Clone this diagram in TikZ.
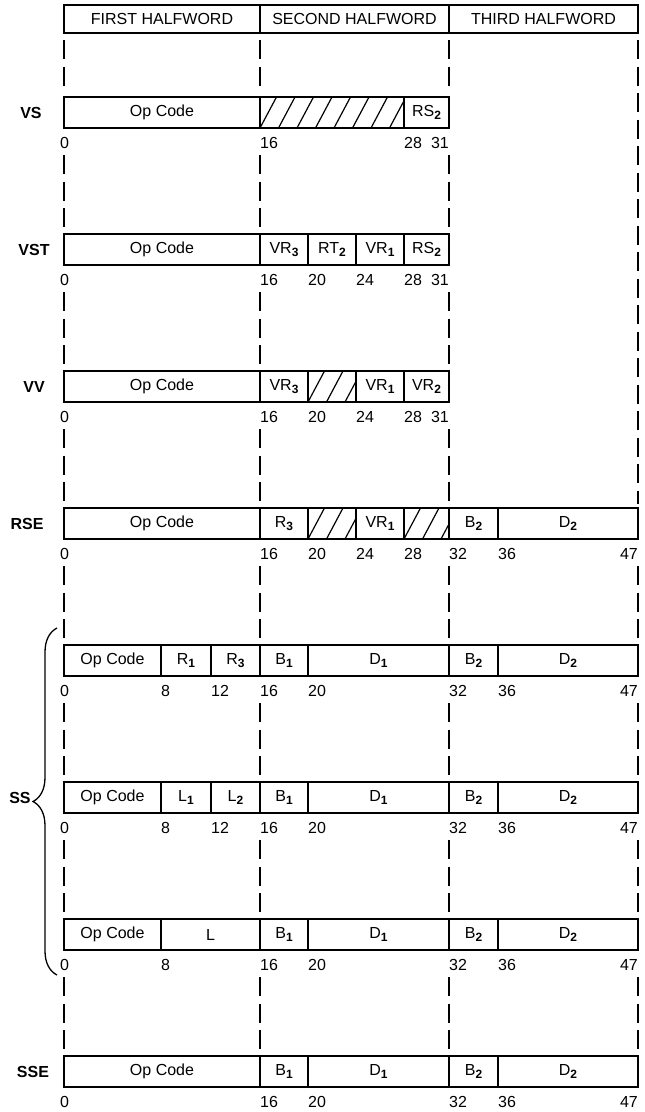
\documentclass[tikz,border=0pt]{standalone}
\usepackage{fontspec}
\setmainfont{Liberation Sans}
\usetikzlibrary{decorations.pathreplacing}
\newcommand{\subs}[1]{\raisebox{-2.5pt}{\fontsize{12}{12}\selectfont\bfseries #1}}

\begin{document}
\begin{tikzpicture}[x=1pt,y=-1pt,
  field/.style={draw,line width=1.3pt},
  hatch/.style={field,path picture={
    \foreach \h in {-1,...,8}
      \draw[line width=1.2pt] ([xshift=\h*18.5pt]path picture bounding box.south west) -- ++(16.5,-31);}},
  txt/.style={font=\fontsize{16}{18}\selectfont,inner sep=0pt},
  num/.style={txt,anchor=west},
  fmt/.style={font=\fontsize{16}{18}\selectfont\bfseries,inner sep=0pt},
  guide/.style={line width=1.7pt,dash pattern=on 19pt off 7.5pt}]
  \useasboundingbox (0,0) rectangle (645,1112);
  \begin{scope}
    \draw[field] (64,5) rectangle (638,33);
    \draw[field] (260,5) -- (260,33) (449,5) -- (449,33);
    \node[txt] (first) at (162,19) {FIRST HALFWORD};
    \node[txt] (second) at (354.5,19) {SECOND HALFWORD};
    \node[txt] (third) at (543.5,19) {THIRD HALFWORD};
  \end{scope}

  \foreach \x in {64,260,449} \draw[guide] (\x,40) -- (\x,93);
  \draw[guide] (638,40) -- (638,504);
  \foreach \t in {97,234,371} \foreach \x in {64,260,449} \draw[guide] (\x,\t+58) -- (\x,\t+134);
  \foreach \t in {508,645,782,919} \foreach \x in {64,260,449,638} \draw[guide] (\x,\t+58) -- (\x,\t+134);

  \node[fmt] (vs) at (31,112.5) {VS};
  \draw[hatch] (260,97) rectangle (404,128);
  \foreach \a/\b/\t [count=\k] in {64/260/Op Code,404/449/RS\subs{2}} {
    \draw[field] (\a,97) rectangle (\b,128);
    \node[txt] (vs\k) at ({(\a+\b)/2},112.5) {\t};
  }
  \foreach \n/\x in {0/60,16/260,28/404} \node[num] (vsn\n) at (\x,143) {\n};
  \node[num,anchor=east] (vsn31) at (449,143) {31};

  \node[fmt] (vst) at (34,249.5) {VST};
  \foreach \a/\b/\t [count=\k] in {64/260/Op Code,260/308/VR\subs{3},308/356/RT\subs{2},356/404/VR\subs{1},404/449/RS\subs{2}} {
    \draw[field] (\a,234) rectangle (\b,265);
    \node[txt] (vst\k) at ({(\a+\b)/2},249.5) {\t};
  }
  \foreach \n/\x in {0/60,16/260,20/308,24/356,28/404} \node[num] (vstn\n) at (\x,280) {\n};
  \node[num,anchor=east] (vstn31) at (449,280) {31};

  \node[fmt] (vv) at (34,386.5) {VV};
  \draw[hatch] (308,371) rectangle (356,402);
  \foreach \a/\b/\t [count=\k] in {64/260/Op Code,260/308/VR\subs{3},356/404/VR\subs{1},404/449/VR\subs{2}} {
    \draw[field] (\a,371) rectangle (\b,402);
    \node[txt] (vv\k) at ({(\a+\b)/2},386.5) {\t};
  }
  \foreach \n/\x in {0/60,16/260,20/308,24/356,28/404} \node[num] (vvn\n) at (\x,417) {\n};
  \node[num,anchor=east] (vvn31) at (449,417) {31};

  \node[fmt] (rse) at (27,523.5) {RSE};
  \draw[hatch] (308,508) rectangle (356,539);
  \draw[hatch] (404,508) rectangle (449,539);
  \foreach \a/\b/\t [count=\k] in {64/260/Op Code,260/308/R\subs{3},356/404/VR\subs{1},449/498/B\subs{2},498/638/D\subs{2}} {
    \draw[field] (\a,508) rectangle (\b,539);
    \node[txt] (rse\k) at ({(\a+\b)/2},523.5) {\t};
  }
  \foreach \n/\x in {0/60,16/260,20/308,24/356,28/404,32/449,36/498} \node[num] (rsen\n) at (\x,554) {\n};
  \node[num,anchor=east] (rsen47) at (638,554) {47};

  \foreach \a/\b/\t [count=\k] in {64/161/Op Code,161/211/R\subs{1},211/260/R\subs{3},260/308/B\subs{1},308/449/D\subs{1},449/498/B\subs{2},498/638/D\subs{2}} {
    \draw[field] (\a,645) rectangle (\b,676);
    \node[txt] (ssa\k) at ({(\a+\b)/2},660.5) {\t};
  }
  \foreach \n/\x in {0/60,8/161,12/211,16/260,20/308,32/449,36/498} \node[num] (ssan\n) at (\x,691) {\n};
  \node[num,anchor=east] (ssan47) at (638,691) {47};

  \foreach \a/\b/\t [count=\k] in {64/161/Op Code,161/211/L\subs{1},211/260/L\subs{2},260/308/B\subs{1},308/449/D\subs{1},449/498/B\subs{2},498/638/D\subs{2}} {
    \draw[field] (\a,782) rectangle (\b,813);
    \node[txt] (ssb\k) at ({(\a+\b)/2},797.5) {\t};
  }
  \foreach \n/\x in {0/60,8/161,12/211,16/260,20/308,32/449,36/498} \node[num] (ssbn\n) at (\x,828) {\n};
  \node[num,anchor=east] (ssbn47) at (638,828) {47};

  \foreach \a/\b/\t [count=\k] in {64/161/Op Code,161/260/L,260/308/B\subs{1},308/449/D\subs{1},449/498/B\subs{2},498/638/D\subs{2}} {
    \draw[field] (\a,919) rectangle (\b,950);
    \node[txt] (ssc\k) at ({(\a+\b)/2},934.5) {\t};
  }
  \foreach \n/\x in {0/60,8/161,16/260,20/308,32/449,36/498} \node[num] (sscn\n) at (\x,965) {\n};
  \node[num,anchor=east] (sscn47) at (638,965) {47};

  \draw[line width=1.3pt,decorate,decoration={brace,amplitude=24pt}] (57,975) -- (57,628);
  \node[fmt] (ss) at (20,798) {SS};

  \node[fmt] (sse) at (33,1071.5) {SSE};
  \foreach \a/\b/\t [count=\k] in {64/260/Op Code,260/308/B\subs{1},308/449/D\subs{1},449/498/B\subs{2},498/638/D\subs{2}} {
    \draw[field] (\a,1056) rectangle (\b,1087);
    \node[txt] (sse\k) at ({(\a+\b)/2},1071.5) {\t};
  }
  \foreach \n/\x in {0/60,16/260,20/308,32/449,36/498} \node[num] (ssen\n) at (\x,1102) {\n};
  \node[num,anchor=east] (ssen47) at (638,1102) {47};
\end{tikzpicture}
\end{document}
